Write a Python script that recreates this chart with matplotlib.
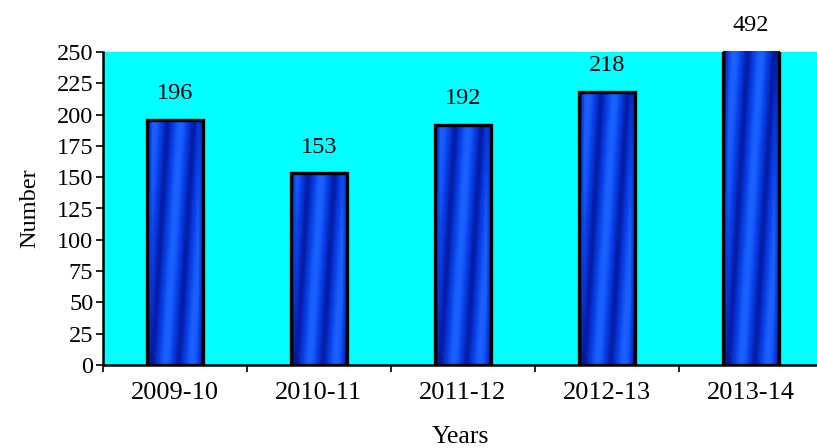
import numpy as np
import matplotlib
matplotlib.use("Agg")
import matplotlib.pyplot as plt
from matplotlib.colors import LinearSegmentedColormap

categories = ["2009-10", "2010-11", "2011-12", "2012-13", "2013-14"]
values = [196, 153, 192, 218, 492]
y_ticks = list(range(0, 251, 25))

plt.rcParams['font.family'] = ['Liberation Serif', 'DejaVu Serif']

fig = plt.figure(figsize=(8.17, 4.48), dpi=100)
ax = fig.add_axes([103/817, 1-365/448, 714/817, 313/448])
ax.set_facecolor('#00ffff')

ymax = 250
x = np.arange(len(categories))
width = 0.39
bars = ax.bar(x, values, width=width, facecolor='none', edgecolor='black', linewidth=2.4, zorder=3)

cmap = LinearSegmentedColormap.from_list('blu', ['#00006e', '#0630cc', '#0a44ee', '#1a62ff'])
for rect, v in zip(bars, values):
    top = min(v, ymax)
    x0 = rect.get_x()
    w = rect.get_width()
    ny, nx = 200, 80
    u = np.linspace(0, 1, nx)[None, :]
    yy = np.linspace(top, 0, ny)[:, None]
    phase = 2.15 * u - yy / 340.0 - 0.2
    val = 0.5 - 0.5 * np.cos(2 * np.pi * phase)
    val = 0.2 + 0.8 * val
    edge = np.clip(np.minimum(u, 1 - u) / 0.1, 0, 1)
    val = val * (0.2 + 0.8 * edge)
    im = ax.imshow(val, cmap=cmap, extent=[x0, x0 + w, 0, top], aspect='auto',
                   origin='upper', zorder=2, interpolation='bilinear', vmin=0, vmax=1)
    im.set_clip_path(rect)
    ax.annotate(str(v), (rect.get_x() + w / 2, top), xytext=(0, 19),
                textcoords='offset points', ha='center', va='center',
                fontsize=17.5, annotation_clip=False)

ax.set_xlim(-0.5, 4.46)
ax.set_ylim(0, ymax)
ax.set_yticks(y_ticks)
ax.tick_params(axis='y', direction='out', length=5, width=1.2, labelsize=17.5, pad=2)

ax.set_xticks([-0.5, 0.5, 1.5, 2.5, 3.5])
ax.set_xticklabels([])
ax.set_xticks(x, minor=True)
ax.set_xticklabels(categories, minor=True)
ax.tick_params(axis='x', which='major', direction='out', length=5, width=1.2)
ax.tick_params(axis='x', which='minor', length=0, labelsize=19, pad=12.5)

for s in ['top', 'right']:
    ax.spines[s].set_visible(False)
for s in ['left', 'bottom']:
    ax.spines[s].set_linewidth(1.8)
    ax.spines[s].set_zorder(4)

ax.set_xlabel('Years', fontsize=18.5, labelpad=15.5)
ax.set_ylabel('Number', fontsize=17.5, labelpad=12)

fig.savefig('out.png', dpi=100)
